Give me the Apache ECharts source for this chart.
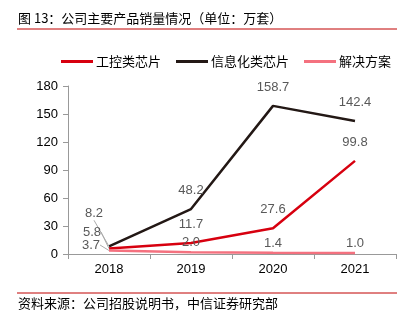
<!DOCTYPE html>
<html><head><meta charset="utf-8">
<script src="https://cdn.jsdelivr.net/npm/echarts@6/dist/echarts.min.js"></script>
<style>html,body{margin:0;padding:0;background:#fff}#c{width:410px;height:329px}</style>
</head><body><div id="c"></div>
<script>
const categories = ['2018', '2019', '2020', '2021'];
const industrial = [5.8, 11.7, 27.6, 99.8];
const infoChips = [8.2, 48.2, 158.7, 142.4];
const solutions = [3.7, 2.0, 1.4, 1.0];
const yTicks = [0, 30, 60, 90, 120, 150, 180];
const seriesNames = ['工控类芯片', '信息化类芯片', '解决方案'];

const chart = echarts.init(document.getElementById('c'));
const font = '"Noto Sans CJK SC", sans-serif';
const lbl = (dist) => ({show: true, position: 'top', distance: dist, color: '#595959', fontSize: 13, fontFamily: 'Liberation Sans, Arial, sans-serif', formatter: p => p.value.toFixed(1)});
const first = (dx, dy) => (p) => p.dataIndex === 0 ? {dx: dx, dy: dy} : {};
const mk = (i, data, color, dist, dx, dy, z) => ({
  name: seriesNames[i], type: 'line',
  data: data.map((v, k) => k === 0 ? {value: v, labelLine: {show: true}} : v),
  symbol: 'circle', symbolSize: 0.1, showSymbol: true, z: z,
  lineStyle: {color: color, width: 2.5}, itemStyle: {color: color},
  label: lbl(dist), labelLine: {show: false, lineStyle: {color: '#aaa', width: 1}},
  labelLayout: first(dx, dy), emphasis: {disabled: true}
});
chart.setOption({
  animation: false,
  graphic: [
    {type: 'text', left: 18, top: 12, style: {text: '图 13：公司主要产品销量情况（单位：万套）', font: '13px ' + font, fill: '#000'}},
    {type: 'line', shape: {x1: 17, y1: 29, x2: 397, y2: 29}, style: {stroke: '#c00000', lineWidth: 1}},
    {type: 'line', shape: {x1: 17, y1: 293, x2: 397, y2: 293}, style: {stroke: '#c00000', lineWidth: 1}},
    {type: 'text', left: 18, top: 297, style: {text: '资料来源：公司招股说明书，中信证券研究部', font: '13px ' + font, fill: '#000'}}
  ],
  legend: {
    top: 50, left: 56, itemWidth: 32, itemHeight: 3, itemGap: 15,
    icon: 'rect',
    textStyle: {fontSize: 13, fontFamily: font, color: '#000', padding: [0, 0, 0, -2]},
    data: seriesNames
  },
  grid: {left: 68, right: 14, top: 86, bottom: 75},
  xAxis: {
    type: 'category', data: categories, boundaryGap: true,
    axisLine: {lineStyle: {color: '#999'}},
    axisTick: {show: true, lineStyle: {color: '#999'}},
    axisLabel: {color: '#000', fontSize: 13, margin: 9, fontFamily: 'Liberation Sans, Arial, sans-serif'}
  },
  yAxis: {
    type: 'value', min: yTicks[0], max: yTicks[yTicks.length - 1], interval: 30,
    axisLine: {show: true, lineStyle: {color: '#999'}},
    axisTick: {show: true, lineStyle: {color: '#999'}},
    splitLine: {show: false},
    axisLabel: {color: '#000', fontSize: 13, margin: 10, fontFamily: 'Liberation Sans, Arial, sans-serif'}
  },
  series: [
    mk(0, industrial, '#d7000f', 12, -17, 2, 3),
    mk(1, infoChips, '#231815', 12, -15, -14, 2),
    mk(2, solutions, '#f4717f', 3, -18, 4, 4)
  ]
});
</script></body></html>
